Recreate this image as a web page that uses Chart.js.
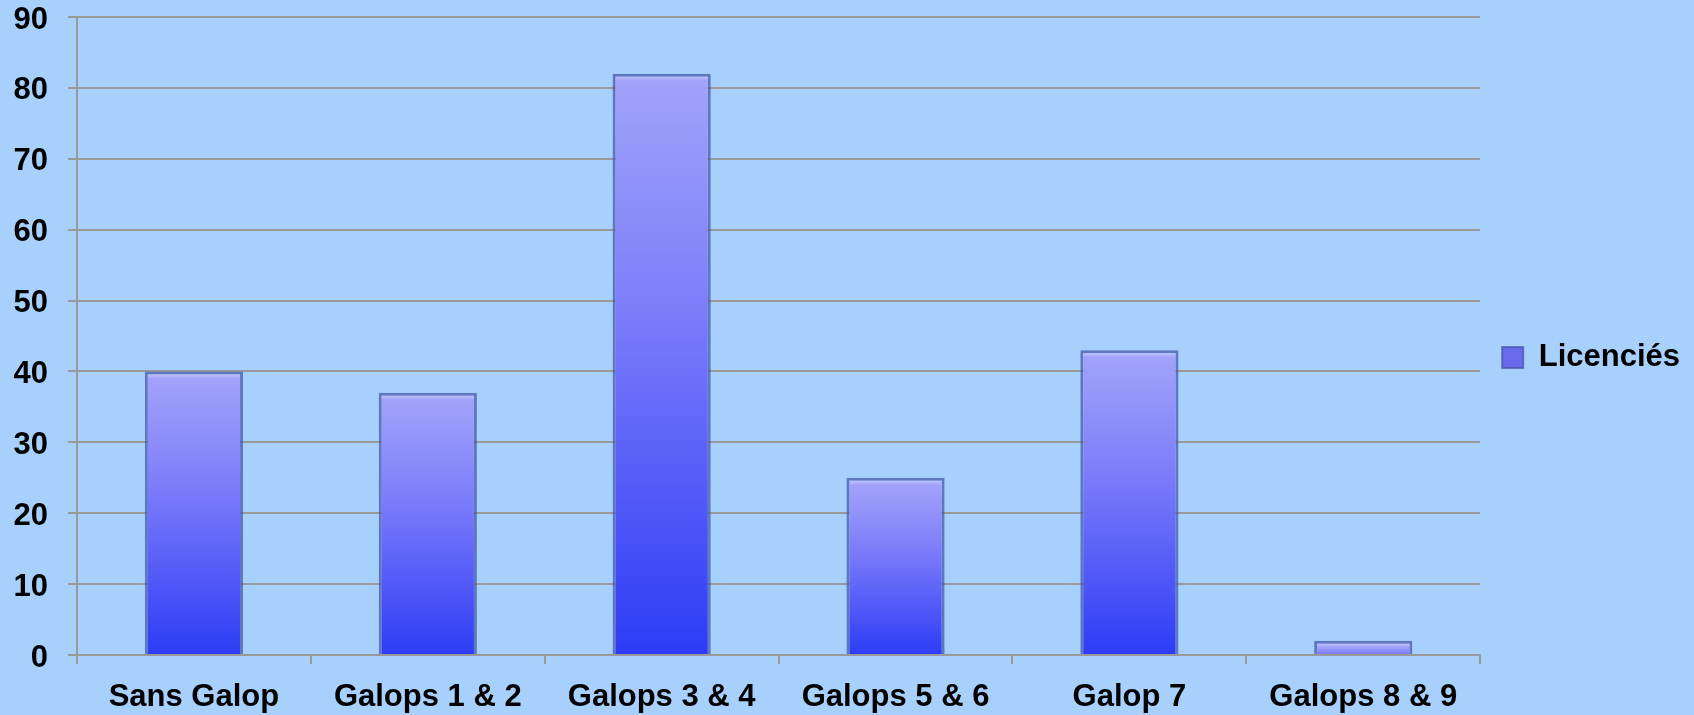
<!DOCTYPE html>
<html>
<head>
<meta charset="utf-8">
<script src="https://cdn.jsdelivr.net/npm/chart.js@4"></script>
<style>
  html, body { margin: 0; padding: 0; background: #a8d0fc; }
  #wrap { width: 1694px; height: 715px; }
</style>
</head>
<body>
<div id="wrap"><canvas id="chart"></canvas></div>
<script>
var categories = ["Sans Galop", "Galops 1 & 2", "Galops 3 & 4", "Galops 5 & 6", "Galop 7", "Galops 8 & 9"];
var licencies = [40, 37, 82, 25, 43, 2];
var yTicks = [0, 10, 20, 30, 40, 50, 60, 70, 80, 90];

Chart.defaults.font.family = "'Liberation Sans', Arial, sans-serif";
Chart.defaults.font.weight = "bold";
Chart.defaults.color = "#000";

// each bar gets its own top-to-bottom gradient, computed from the scales
function barGradient(ctx) {
  let chart = ctx.chart;
  let y = chart.scales.y;
  if (!y || ctx.type !== "data") return "#5b63f5";
  let top = y.getPixelForValue(ctx.raw);
  let bottom = y.getPixelForValue(0);
  let h = Math.max(bottom - top, 1);
  let g = chart.ctx.createLinearGradient(0, top, 0, bottom);
  let hi = Math.min(7 / h, 0.45);
  g.addColorStop(0, "rgb(215,215,252)");
  g.addColorStop(hi, "rgb(162,162,250)");
  g.addColorStop(Math.max(0.4, hi * 2), "rgb(125,125,250)");
  g.addColorStop(1, "rgb(45,60,245)");
  return g;
}

// nudge the legend a little to the right, closer to the canvas edge
const legendShift = {
  id: "legendShift",
  afterLayout(chart) {
    chart.legend.left += 2;
    chart.legend.right += 2;
  },
};

const chart = new Chart("chart", {
  type: "bar",
  data: {
    labels: categories,
    datasets: [
      {
        label: "Licenciés",
        data: licencies,
        backgroundColor: barGradient,
        borderColor: "rgba(70,90,170,0.75)",
        borderWidth: 3,
        barPercentage: 0.42,
        categoryPercentage: 1,
      },
    ],
  },
  plugins: [legendShift],
  options: {
    responsive: true,
    maintainAspectRatio: false,
    animation: false,
    layout: { padding: { left: 0, top: 0, right: 6, bottom: 0 } },
    plugins: {
      tooltip: { enabled: false },
      legend: {
        position: "right",
        labels: {
          font: { size: 31, weight: "bold" },
          boxWidth: 21,
          boxHeight: 21,
          padding: 20,
          generateLabels: (c) => [
            {
              text: "Licenciés",
              fillStyle: "rgb(105,105,235)",
              strokeStyle: "rgba(70,90,170,0.75)",
              lineWidth: 2,
              datasetIndex: 0,
            },
          ],
        },
      },
    },
    scales: {
      x: {
        grid: {
          offset: true,
          drawOnChartArea: false,
          color: "#999",
          lineWidth: 2,
          tickLength: 9,
        },
        border: { color: "#999", width: 2 },
        ticks: { font: { size: 31, weight: "bold" }, padding: 15, maxRotation: 0 },
        afterFit: (scale) => {
          scale.height = 60;
          scale.paddingLeft = 0;
          scale.paddingRight = 0;
        },
      },
      y: {
        min: 0,
        max: 90,
        afterBuildTicks: (axis) => {
          axis.ticks = yTicks.map((v) => ({ value: v }));
        },
        grid: { color: "#999", lineWidth: 2, tickLength: 9 },
        border: { color: "#999", width: 2 },
        ticks: { font: { size: 31, weight: "bold" }, padding: 20, labelOffset: 3 },
        afterFit: (scale) => {
          scale.width = 77;
          scale.paddingTop = 17;
          scale.paddingBottom = 0;
        },
      },
    },
  },
});
</script>
</body>
</html>
